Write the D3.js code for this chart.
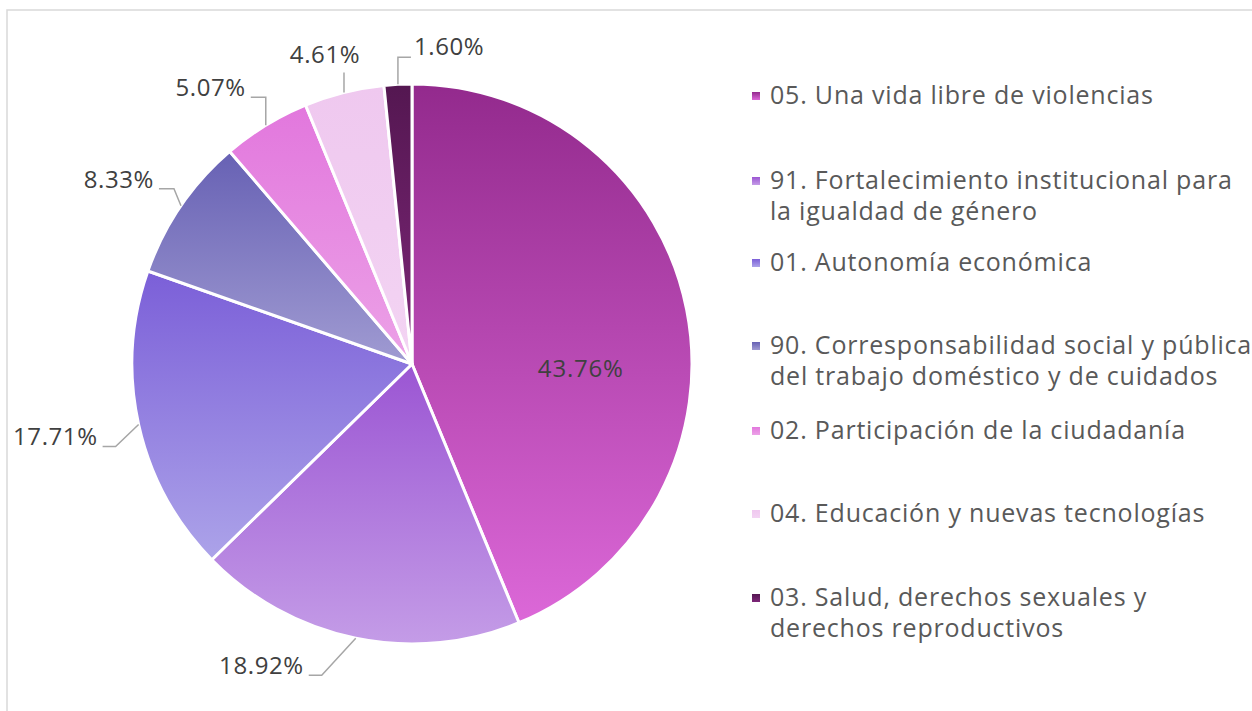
<html>
<meta charset="utf-8"></meta>
<script src="https://cdn.jsdelivr.net/npm/d3@7"></script>
<style>
body{margin:0;background:#fff;}
text{font-family:"Open Sans",Lato,sans-serif;}
</style>
<body>
<svg id="chart" width="1252" height="711"></svg>
<script>
// data
var categories = [
	"05. Una vida libre de violencias",
	"91. Fortalecimiento institucional para la igualdad de género",
	"01. Autonomía económica",
	"90. Corresponsabilidad social y pública del trabajo doméstico y de cuidados",
	"02. Participación de la ciudadanía",
	"04. Educación y nuevas tecnologías",
	"03. Salud, derechos sexuales y derechos reproductivos"
];
var legendLines = [
	["05. Una vida libre de violencias"],
	["91. Fortalecimiento institucional para", "la igualdad de género"],
	["01. Autonomía económica"],
	["90. Corresponsabilidad social y pública", "del trabajo doméstico y de cuidados"],
	["02. Participación de la ciudadanía"],
	["04. Educación y nuevas tecnologías"],
	["03. Salud, derechos sexuales y", "derechos reproductivos"]
];
var values = [43.76, 18.92, 17.71, 8.33, 5.07, 4.61, 1.60];
var colorTop = ["#932a8d", "#9b55d3", "#7b5fd8", "#6761b4", "#e277dd", "#efc8ef", "#541751"];
var colorBottom = ["#dc68d8", "#c49ce7", "#aca3e9", "#a09bd2", "#eca2e7", "#f3d4f3", "#7e2779"];

// label leader layout: elbow offset from arc point, then horizontal run
var leaders = [
	null,
	{dx:-34, dy:37, run:-13},
	{dx:-23, dy:22, run:-13},
	{dx:-7, dy:-17, run:-15},
	{dx:0, dy:-28, run:-15},
	{dx:0, dy:-20, run:0},
	{dx:0, dy:-27, run:13}
];

function draw(){
	var svg = d3.select("#chart");
	var cx = 412, cy = 364, r = 280;

	svg.append("rect").attr("x",7).attr("y",10).attr("width",1300).attr("height",800)
		.attr("fill","none").attr("stroke","#d9d9d9").attr("stroke-width",1.5);

	var defs = svg.append("defs");
	values.forEach(function(v,i){
		var lg = defs.append("linearGradient").attr("id","grad"+i)
			.attr("x1",0).attr("y1",0).attr("x2",0).attr("y2",1);
		lg.append("stop").attr("offset","0%").attr("stop-color",colorTop[i]);
		lg.append("stop").attr("offset","100%").attr("stop-color",colorBottom[i]);
	});

	var pie = d3.pie().sort(null).value(function(d){return d;});
	var arcs = pie(values);
	var arc = d3.arc().innerRadius(0).outerRadius(r);

	var g = svg.append("g").attr("transform","translate("+cx+","+cy+")");
	g.selectAll("path.slice").data(arcs).enter().append("path")
		.attr("class","slice")
		.attr("d",arc)
		.attr("fill",function(d,i){return "url(#grad"+i+")";})
		.attr("stroke","#fff").attr("stroke-width",3).attr("stroke-linejoin","round");

	var fs = 24;
	arcs.forEach(function(d,i){
		var a = (d.startAngle+d.endAngle)/2;
		var px = r*Math.sin(a), py = -r*Math.cos(a);
		var txt = values[i].toFixed(2)+"%";
		var L = leaders[i];
		if(!L){
			var c = d3.arc().innerRadius(r*0.6).outerRadius(r*0.6).centroid(d);
			g.append("text").attr("x",c[0]+4).attr("y",13).attr("text-anchor","middle")
				.attr("font-size",fs).attr("letter-spacing",0.8).attr("fill","#404040").text(txt);
			return;
		}
		var ex = px+L.dx, ey = py+L.dy;
		var pts = [[px,py],[ex,ey]];
		if(L.run!==0) pts.push([ex+L.run,ey]);
		g.append("path").attr("d",d3.line()(pts)).attr("fill","none")
			.attr("stroke","#a6a6a6").attr("stroke-width",1.5);
		var t = g.append("text").attr("font-size",fs).attr("letter-spacing",0.6)
			.attr("fill","#404040").text(txt);
		if(L.run<0){
			t.attr("x",ex+L.run-5).attr("y",ey-1).attr("text-anchor","end");
		} else if(L.run>0){
			t.attr("x",ex+L.run+3).attr("y",ey-2).attr("text-anchor","start");
		} else {
			t.attr("x",ex-19).attr("y",ey-9).attr("text-anchor","middle");
		}
	});

	// legend
	var legY = [96, 181, 263, 346, 431, 514, 598];
	var lg = svg.append("g");
	legendLines.forEach(function(lines,i){
		var y = legY[i];
		lg.append("rect").attr("x",752).attr("y",y-4).attr("width",8).attr("height",8)
			.attr("fill","url(#grad"+i+")");
		var t = lg.append("text").attr("x",770).attr("y",y+8).attr("font-size",25)
			.attr("letter-spacing",0.8).attr("fill","#595959");
		lines.forEach(function(s,k){
			t.append("tspan").attr("x",770).attr("dy",k==0?0:31).text(s);
		});
	});
}
draw();
</script>
</body>
</html>
